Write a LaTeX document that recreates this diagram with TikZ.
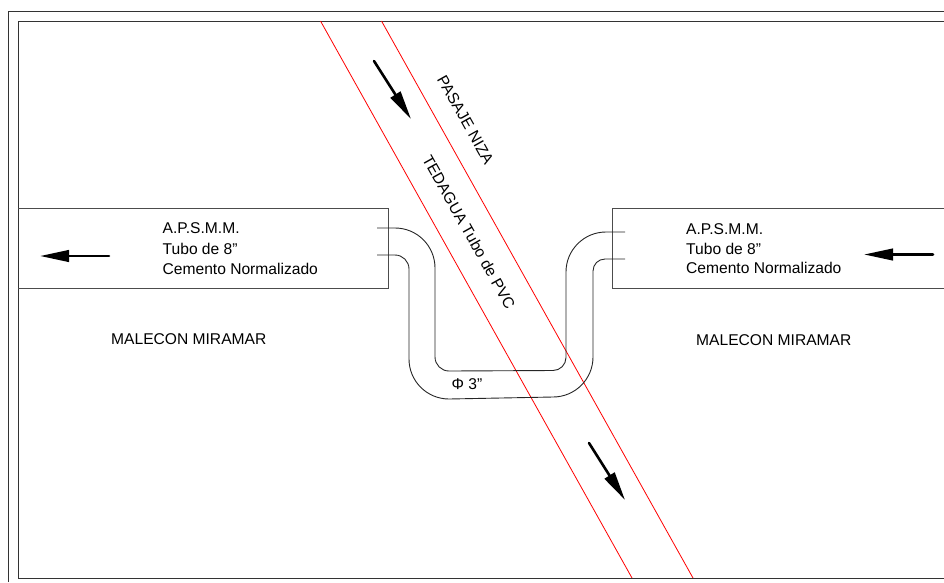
\documentclass[tikz,border=0pt]{standalone}
\usepackage{fontspec}
\setmainfont{Liberation Sans}
\usetikzlibrary{
arrows.meta,
}
\tikzset{
	frameline/.style={line width=0.95pt, black!80},
	roadline/.style={line width=0.95pt, black!70},
	pipeline/.style={line width=0.9pt, black!85},
	axisline/.style={line width=0.8pt, red},
	flowarrow/.style={line width=2.6pt, line cap=round, -{Triangle[length=29pt, width=11.5pt]}},
	label/.style={font=\fontsize{15.6}{18}\selectfont, inner sep=0pt},
}
\begin{document}
\begin{tikzpicture}[x=1pt, y=-1pt]
	\useasboundingbox (0,0) rectangle (944,582);
	\clip (0,0) rectangle (944,582);
	\coordinate(OutA) at (8,582);
	\coordinate(OutB) at (8,11);
	\coordinate(OutC) at (944,11);
	\coordinate(InA) at (18,578);
	\coordinate(InB) at (18,21);
	\coordinate(InC) at (944,21);
	\coordinate(InD) at (944,578);

	\draw[frameline] (OutA) -- (OutB) -- (OutC);
	\draw[frameline] (InC) -- (InB) -- (InA) -- (InD);

	% calle izquierda y derecha
	\draw[roadline] (18,208) -- (388.5,208) -- (388.5,288) -- (18,288);
	\draw[roadline] (944,208) -- (612.5,208) -- (612.5,288) -- (944,288);

	% pasaje
	\draw[axisline] (320.5,21) -- (632,578);
	\draw[axisline] (381.5,21) -- (693,578);

	% tubo de 3 pulgadas
	\draw[pipeline] (377,228) -- (395,228) arc[start angle=-90, end angle=0, radius=40]
		-- (435,357) arc[start angle=180, end angle=90, radius=14]
		-- (553,370.5) arc[start angle=90, end angle=0, radius=13]
		-- (566,272) arc[start angle=180, end angle=270, radius=40]
		-- (625,232);
	\draw[pipeline] (377,255) -- (395,255) arc[start angle=-90, end angle=0, radius=14]
		-- (409,359) arc[start angle=180, end angle=90, radius=40]
		-- (553,397) arc[start angle=90, end angle=0, radius=40]
		-- (593,271) arc[start angle=180, end angle=270, radius=12]
		-- (625,259);

	% flechas
	\coordinate(LeftTail) at (109,256);
	\coordinate(LeftTip) at (40,256);
	\coordinate(RightTail) at (933,254.5);
	\coordinate(RightTip) at (864,254.5);
	\coordinate(TopTail) at (374,61);
	\coordinate(TopTip) at (411,119);
	\coordinate(LowTail) at (589,443);
	\coordinate(LowTip) at (625,500);
	\draw[flowarrow] (LeftTail) -- (LeftTip);
	\draw[flowarrow] (RightTail) -- (RightTip);
	\draw[flowarrow] (TopTail) -- (TopTip);
	\draw[flowarrow] (LowTail) -- (LowTip);

	\node[label, anchor=west] (leftA) at (162.5,228) {A.P.S.M.M.};
	\node[label, anchor=west] (leftB) at (162.5,249) {Tubo de 8\symbol{34}};
	\node[label, anchor=west] (leftC) at (162.5,269) {Cemento Normalizado};
	\node[label, anchor=west] (rightA) at (686,229) {A.P.S.M.M.};
	\node[label, anchor=west] (rightB) at (686,249) {Tubo de 8\symbol{34}};
	\node[label, anchor=west] (rightC) at (686,268) {Cemento Normalizado};
	\node[label, anchor=west] (maleconL) at (111,339) {MALECON MIRAMAR};
	\node[label, anchor=west] (maleconR) at (696,340) {MALECON MIRAMAR};
	\node[label] (diam) at (467,384) {Φ 3\symbol{34}};
	\node[label, rotate=-60.7] (pasaje) at (465.5,120) {PASAJE NIZA};
	\node[label, rotate=-60.7] (tedagua) at (469,232) {TEDAGUA Tubo de PVC};
\end{tikzpicture}
\end{document}
